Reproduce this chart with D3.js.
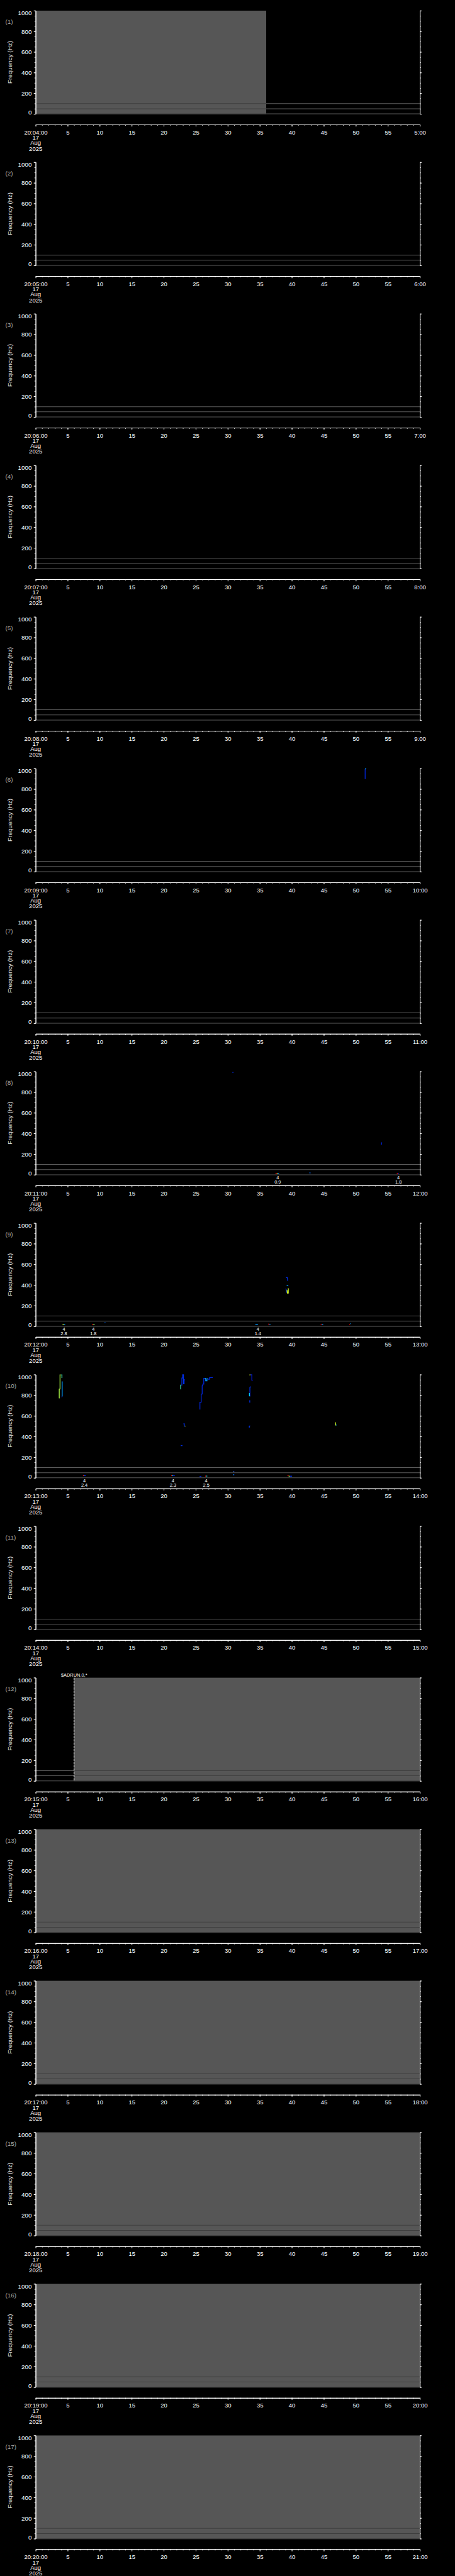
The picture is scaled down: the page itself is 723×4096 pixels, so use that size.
<!DOCTYPE html>
<html>
<head>
<meta charset="utf-8">
<script src="https://cdn.jsdelivr.net/npm/d3@7"></script>
<style>
  html, body { margin: 0; padding: 0; background: #000; }
  svg { display: block; }
  text { font-family: "Liberation Sans", Arial, sans-serif; }
</style>
</head>
<body>
<div id="chart"></div>
<script>
// one panel per minute, 20:04 .. 20:20 on 17 Aug 2025
const panelMinutes = [4, 5, 6, 7, 8, 9, 10, 11, 12, 13, 14, 15, 16, 17, 18, 19, 20];
const dateLines = ["17", "Aug", "2025"];
const freqTicks = [0, 200, 400, 600, 800, 1000];
const freqMinorTicks = d3.range(0, 1001, 50);
const secMajorTicks = d3.range(0, 61, 5);
const secMinorTicks = d3.range(0, 61, 1);
const guideFreqs = [0, 50, 100];

// grey = no data (seconds within the panel)
const noData = [
  {panel: 1, from: 0, to: 36},
  {panel: 12, from: 6, to: 60},
  {panel: 13, from: 0, to: 60},
  {panel: 14, from: 0, to: 60},
  {panel: 15, from: 0, to: 60},
  {panel: 16, from: 0, to: 60},
  {panel: 17, from: 0, to: 60}
];

const adrunMarks = [{panel: 12, sec: 6, text: "$ADRUN,0,*"}];

// detections printed under the plot
const events = [
  {panel: 8, sec: 37.8, code: 4, value: 0.9},
  {panel: 8, sec: 56.65, code: 4, value: 1.8},
  {panel: 9, sec: 4.4, code: 4, value: 2.8},
  {panel: 9, sec: 9.0, code: 4, value: 1.8},
  {panel: 9, sec: 34.7, code: 4, value: 1.4},
  {panel: 10, sec: 7.6, code: 4, value: 2.4},
  {panel: 10, sec: 21.44, code: 4, value: 2.3},
  {panel: 10, sec: 26.63, code: 4, value: 2.5}
];

// spectrogram traces: [second, Hz], level = relative intensity 0..1
const traces = [
  {panel: 6, level: 0.2, pts: [[51.45, 897], [51.45, 992]]},
  {panel: 6, level: 0.45, pts: [[51.45, 992], [51.5, 997], [51.62, 997]]},

  {panel: 8, level: 0.25, pts: [[30.8, 986], [30.8, 996]]},
  {panel: 8, level: 0.2, pts: [[53.95, 288], [54.0, 300], [54.0, 309], [54.1, 309]]},
  {panel: 8, level: 1.0, pts: [[37.45, 13], [37.65, 13]]},
  {panel: 8, level: 0.8, pts: [[37.65, 13], [37.8, 13]]},
  {panel: 8, level: 0.45, pts: [[37.8, 13], [38.0, 13]]},
  {panel: 8, level: 0.4, pts: [[42.75, 18], [42.85, 18], [42.85, 13]]},
  {panel: 8, level: 1.0, pts: [[56.4, 13], [56.55, 13]]},
  {panel: 8, level: 0.2, pts: [[56.55, 13], [56.72, 13]]},

  {panel: 9, level: 0.8, pts: [[4.2, 17], [4.4, 17]]},
  {panel: 9, level: 0.45, pts: [[4.4, 17], [4.6, 17]]},
  {panel: 9, level: 1.0, pts: [[8.8, 17], [9.0, 17]]},
  {panel: 9, level: 0.7, pts: [[9.0, 17], [9.2, 17]]},
  {panel: 9, level: 0.4, pts: [[10.75, 34], [10.9, 34]]},
  {panel: 9, level: 0.45, pts: [[34.3, 17], [34.7, 17]]},
  {panel: 9, level: 1.0, pts: [[36.3, 21], [36.5, 21]]},
  {panel: 9, level: 0.45, pts: [[36.5, 18], [36.6, 18], [36.6, 14]]},
  {panel: 9, level: 0.25, pts: [[39.1, 472], [39.3, 472], [39.35, 440]]},
  {panel: 9, level: 0.45, pts: [[39.2, 395], [39.45, 393]]},
  {panel: 9, level: 0.3, pts: [[39.05, 365], [39.15, 350], [39.2, 325]]},
  {panel: 9, level: 0.8, pts: [[39.25, 350], [39.3, 322], [39.45, 322], [39.45, 368]]},
  {panel: 9, level: 1.0, pts: [[44.5, 20], [44.7, 20]]},
  {panel: 9, level: 0.45, pts: [[44.7, 17], [44.9, 17]]},
  {panel: 9, level: 1.0, pts: [[48.95, 20], [49.1, 20]]},
  {panel: 9, level: 0.45, pts: [[49.1, 24], [49.2, 26]]},

  {panel: 10, level: 0.75, pts: [[3.63, 774], [3.68, 774], [3.68, 860], [3.8, 860], [3.8, 998], [3.91, 998]]},
  {panel: 10, level: 0.6, pts: [[4.0, 998], [4.1, 998], [4.1, 967]]},
  {panel: 10, level: 0.45, pts: [[4.14, 934], [4.14, 788]]},
  {panel: 10, level: 0.2, pts: [[4.05, 782], [4.14, 788]]},
  {panel: 10, level: 0.6, pts: [[22.62, 860], [22.65, 860], [22.65, 898], [22.75, 898]]},
  {panel: 10, level: 0.25, pts: [[22.75, 898], [22.83, 898], [22.83, 967], [22.95, 967], [22.95, 999], [23.08, 999], [23.08, 910], [23.18, 910], [23.18, 950], [23.3, 950]]},
  {panel: 10, level: 0.25, pts: [[23.08, 523], [23.2, 523], [23.2, 501], [23.32, 501]]},
  {panel: 10, level: 0.8, pts: [[23.3, 501], [23.38, 501]]},
  {panel: 10, level: 0.25, pts: [[22.65, 312], [22.92, 312]]},
  {panel: 10, level: 0.2, pts: [[25.65, 662], [25.65, 733], [25.85, 733], [25.85, 812], [26.0, 812], [26.0, 893], [26.1, 893], [26.1, 907], [26.25, 907], [26.25, 964], [26.4, 964]]},
  {panel: 10, level: 0.45, pts: [[26.4, 964], [26.55, 964], [26.55, 940], [26.75, 940], [26.75, 960], [26.95, 960]]},
  {panel: 10, level: 0.2, pts: [[26.95, 960], [26.95, 955], [27.15, 955], [27.15, 970], [27.65, 972]]},
  {panel: 10, level: 1.0, pts: [[7.38, 21], [7.5, 21]]},
  {panel: 10, level: 0.5, pts: [[7.5, 21], [7.6, 21]]},
  {panel: 10, level: 0.2, pts: [[7.6, 21], [7.84, 21]]},
  {panel: 10, level: 1.0, pts: [[21.14, 21], [21.3, 21]]},
  {panel: 10, level: 0.5, pts: [[21.3, 21], [21.45, 21]]},
  {panel: 10, level: 0.2, pts: [[21.45, 21], [21.72, 21]]},
  {panel: 10, level: 0.2, pts: [[25.6, 13], [25.88, 13]]},
  {panel: 10, level: 1.0, pts: [[26.46, 17], [26.6, 17]]},
  {panel: 10, level: 0.55, pts: [[26.6, 17], [26.8, 17]]},
  {panel: 10, level: 0.8, pts: [[33.38, 997], [33.55, 997]]},
  {panel: 10, level: 0.12, pts: [[33.55, 999], [33.75, 999], [33.75, 946], [33.9, 946]]},
  {panel: 10, level: 0.25, pts: [[33.45, 788], [33.45, 877], [33.56, 881], [33.62, 883]]},
  {panel: 10, level: 0.5, pts: [[33.38, 822], [33.38, 795], [33.45, 792]]},
  {panel: 10, level: 0.25, pts: [[33.43, 752], [33.43, 733], [33.5, 733]]},
  {panel: 10, level: 0.3, pts: [[33.36, 487], [33.36, 501], [33.5, 503]]},
  {panel: 10, level: 0.8, pts: [[46.79, 534], [46.83, 534], [46.83, 511], [46.92, 511]]},
  {panel: 10, level: 0.5, pts: [[46.88, 511], [46.98, 511]]},
  {panel: 10, level: 0.8, pts: [[30.79, 60], [30.85, 60]]},
  {panel: 10, level: 0.2, pts: [[30.85, 60], [31.02, 60]]},
  {panel: 10, level: 0.5, pts: [[30.79, 30], [30.9, 30]]},
  {panel: 10, level: 0.2, pts: [[30.9, 30], [31.02, 30]]},
  {panel: 10, level: 1.0, pts: [[39.32, 21], [39.5, 21]]},
  {panel: 10, level: 0.75, pts: [[39.5, 16], [39.7, 16]]},
  {panel: 10, level: 0.3, pts: [[39.7, 16], [40.02, 16]]}
];

const W = 1024, H = 5802, S = 723 / 1024;
const svg = d3.select("#chart").append("svg").attr("width", 723).attr("height", 4096);
svg.append("rect").attr("width", 723).attr("height", 4096).attr("fill", "#000");
const root = svg.append("g").attr("transform", `scale(${S})`);

const step = H / panelMinutes.length;
const left = 80.3, right = 945, plotTop = 24, plotBottom = 256.5, axisGap = 24.2;
const SW = 1.42;

const x = d3.scaleLinear().domain([0, 60]).range([left, right]);
const y = d3.scaleLinear().domain([0, 1000]).range([plotBottom, plotTop]);
const color = d3.scaleLinear()
  .domain([0, 0.35, 0.5, 0.65, 0.85, 1])
  .range(["#0000b0", "#0040ff", "#00c8ff", "#60ff90", "#ffff00", "#ff0000"]);
const line = d3.line().x(d => x(d[0])).y(d => y(d[1]));
const pad = v => String(v).padStart(2, "0");

function styleAxis(sel, fontSize) {
  sel.selectAll(".domain").attr("stroke", "#fff").attr("stroke-width", SW);
  sel.selectAll(".tick line").attr("stroke", "#fff").attr("stroke-width", SW);
  sel.selectAll("text").attr("fill", "#fff").style("font-family", '"Liberation Sans", Arial, sans-serif').style("font-size", fontSize + "px");
  sel.selectAll("g").attr("font-family", null).attr("font-size", null);
}

panelMinutes.forEach((m, i) => {
  const n = i + 1;
  const g = root.append("g").attr("transform", `translate(0,${i * step})`);
  const gaps = noData.filter(d => d.panel === n);

  gaps.forEach(d => {
    g.append("rect")
      .attr("x", x(d.from)).attr("y", y(1000))
      .attr("width", x(d.to) - x(d.from)).attr("height", y(0) - y(1000))
      .attr("fill", "#565656");
  });

  guideFreqs.forEach(f => {
    g.append("line").attr("x1", left).attr("x2", right).attr("y1", y(f)).attr("y2", y(f))
      .attr("stroke", "#5c5c5c").attr("stroke-width", SW);
    gaps.forEach(d => {
      g.append("line").attr("x1", x(d.from)).attr("x2", x(d.to)).attr("y1", y(f)).attr("y2", y(f))
        .attr("stroke", "#3e3e3e").attr("stroke-width", SW);
    });
  });

  traces.filter(t => t.panel === n).forEach(t => {
    g.append("path").attr("d", line(t.pts)).attr("fill", "none")
      .attr("stroke", color(t.level)).attr("stroke-width", 1.8);
  });

  adrunMarks.filter(a => a.panel === n).forEach(a => {
    g.append("line").attr("x1", x(a.sec)).attr("x2", x(a.sec)).attr("y1", y(1000)).attr("y2", y(0))
      .attr("stroke", "#fff").attr("stroke-width", SW).attr("stroke-dasharray", "5,2.3");
    g.append("text").attr("x", x(a.sec)).attr("y", plotTop - 3).attr("text-anchor", "middle")
      .attr("fill", "#fff").style("font-size", "10.5px").text(a.text);
  });

  events.filter(e => e.panel === n).forEach(e => {
    g.append("text").attr("x", x(e.sec)).attr("y", y(0) + 9.7).attr("text-anchor", "middle")
      .attr("fill", "#fff").style("font-size", "10.5px").text(e.code);
    g.append("text").attr("x", x(e.sec)).attr("y", y(0) + 19.6).attr("text-anchor", "middle")
      .attr("fill", "#fff").style("font-size", "10.5px").text(e.value.toFixed(1));
  });

  // left frequency axis
  const yl = g.append("g").attr("transform", `translate(${left},0)`);
  yl.append("g").call(d3.axisLeft(y).tickValues(freqMinorTicks).tickSize(2.7).tickSizeOuter(0).tickFormat(""));
  yl.append("g").call(d3.axisLeft(y).tickValues(freqTicks).tickSize(4.3).tickSizeOuter(0).tickPadding(4.5).tickFormat(d3.format("d")));
  styleAxis(yl, 14);
  yl.selectAll(".tick text").attr("dy", d => d === 1000 ? "0.69em" : d === 0 ? "0.05em" : "0.34em");

  // right frequency axis
  const yr = g.append("g").attr("transform", `translate(${right},0)`);
  yr.append("g").call(d3.axisRight(y).tickValues(freqMinorTicks).tickSize(2).tickSizeOuter(0).tickFormat(""));
  yr.append("g").call(d3.axisRight(y).tickValues(freqTicks).tickSize(4).tickSizeOuter(0).tickFormat(""));
  styleAxis(yr, 14);

  // time axis
  const xa = g.append("g").attr("transform", `translate(0,${plotBottom + axisGap})`);
  xa.append("g").call(d3.axisBottom(x).tickValues(secMinorTicks).tickSize(2.3).tickSizeOuter(0).tickFormat(""));
  xa.append("g").call(d3.axisBottom(x).tickValues(secMajorTicks).tickSize(4.3).tickSizeOuter(0)
    .tickFormat(s => s === 0 ? `20:${pad(m)}:00` : s === 60 ? `${m + 1}:00` : String(s)));
  styleAxis(xa, 13.5);
  xa.selectAll(".tick text").attr("y", 22).attr("dy", 0);
  const baselines = [34.3, 45.6, 58.6];
  dateLines.forEach((t, k) => {
    xa.append("text").attr("x", x(0)).attr("y", baselines[k]).attr("text-anchor", "middle")
      .attr("fill", "#fff").style("font-size", "13.5px").text(t);
  });

  g.append("text").attr("x", 12).attr("y", plotTop + 30)
    .attr("fill", "#a8a8a8").style("font-size", "14px").text(`(${n})`);

  g.append("text")
    .attr("transform", `translate(27,${(plotTop + plotBottom) / 2}) rotate(-90)`)
    .attr("text-anchor", "middle").attr("fill", "#e0e0e0").style("font-size", "14px")
    .text("Frequency (Hz)");
});
</script>
</body>
</html>
